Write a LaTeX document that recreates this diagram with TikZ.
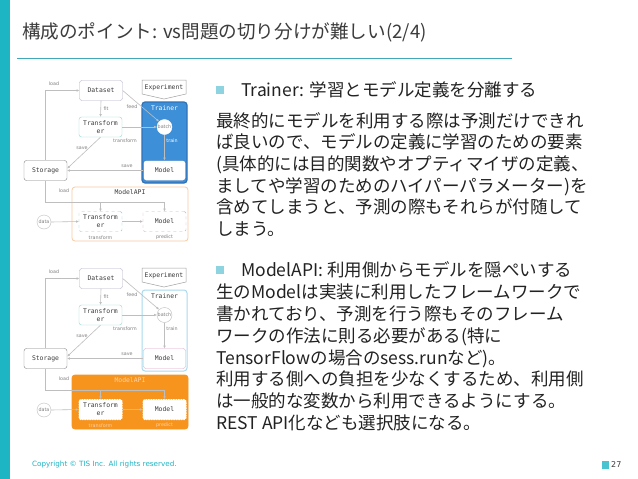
\documentclass[tikz,border=0pt]{standalone}
\usepackage{fontspec}
\usetikzlibrary{arrows.meta}
\newfontfamily\jpfont{Noto Sans CJK JP}
\newfontfamily\codefont{DejaVu Sans Mono}
\newfontfamily\labfont{DejaVu Sans}
\definecolor{barteal}{HTML}{1DB4C4}
\definecolor{ruleteal}{HTML}{3FA9BA}
\definecolor{bulletteal}{HTML}{8DD3E0}
\definecolor{titlegray}{HTML}{3C3C3C}
\definecolor{bodygray}{HTML}{222222}
\definecolor{edgegray}{HTML}{BEBEBE}
\definecolor{boxgray}{HTML}{A0A0A0}
\definecolor{dsgray}{HTML}{B4B0CA}
\definecolor{trteal}{HTML}{94D6D2}
\definecolor{trainblue}{HTML}{3D8FD8}
\definecolor{trainedge}{HTML}{2F72B8}
\definecolor{trainlight}{HTML}{A9DAEE}
\definecolor{apiorange}{HTML}{F7941E}
\definecolor{apilight}{HTML}{F9CBA0}
\definecolor{apitext}{HTML}{FDD2A6}
\definecolor{modelpink}{HTML}{E2A4CA}
\definecolor{dashteal}{HTML}{86D0DA}
\begin{document}
\begin{tikzpicture}[x=1pt, y=-1pt,
    box/.style={draw=boxgray, fill=white, rounded corners=2.5pt, minimum width=43pt,
      minimum height=20pt, inner sep=0pt, align=center, text=titlegray,
      font=\codefont\fontsize{6.4}{8.2}\selectfont},
    lbl/.style={inner sep=0pt, text=gray, font=\labfont\fontsize{4.8}{5}\selectfont},
    flow/.style={draw=edgegray, line width=0.6pt, -{Latex[length=2.6pt,width=2.6pt]}},
    wire/.style={draw=edgegray, line width=0.6pt},
    dot/.style={circle, draw=edgegray, fill=white, minimum size=15pt, inner sep=0pt,
      text=gray, font=\labfont\fontsize{4.8}{5}\selectfont},
    body/.style={anchor=north west, inner sep=0pt, align=left, text=bodygray,
      font=\jpfont\fontsize{17.5}{21.7}\selectfont},
    head/.style={anchor=west, inner sep=0pt, text=bodygray,
      font=\jpfont\fontsize{17.5}{21.7}\selectfont}]
  \useasboundingbox (0,0) rectangle (638,479);
  \fill[white] (0,0) rectangle (638,479);
  \fill[barteal] (0,0) rectangle (10,479);
  \node[anchor=west, inner sep=0pt, text=titlegray, font=\jpfont\fontsize{18.6}{20}\selectfont]
    (title) at (22,32) {構成のポイント: vs問題の切り分けが難しい(2/4)};
  \draw[ruleteal, line width=0.8pt] (17,58.5) -- (512,58.5);

  % diagram 1: trainer highlighted
  \draw[trainedge, fill=trainblue, line width=1.2pt, rounded corners=3pt] (142,102) rectangle (187,183);
  \draw[apilight, line width=0.8pt, rounded corners=3pt] (72,187) rectangle (188,241);
  \draw[boxgray, fill=white, line width=0.5pt] (142,80) -- (186,80) -- (186,94) -- (164,99) -- (142,94) -- cycle;
  \node[inner sep=0pt, text=titlegray, font=\codefont\fontsize{6.4}{7}\selectfont] (exp1) at (164,87.5) {Experiment};
  \node[inner sep=0pt, text=white, font=\codefont\fontsize{6.4}{7}\selectfont] (trn1) at (164.5,108) {Trainer};
  \node[inner sep=0pt, text=titlegray, font=\codefont\fontsize{6.4}{7}\selectfont] (api1) at (130,192.5) {ModelAPI};
  \node[box, draw=dsgray] (ds1) at (101,90.5) {Dataset};
  \node[box, draw=trteal] (tf1) at (100.5,127) {Transform\\er};
  \node[box, draw=gray] (sto1) at (45.5,170.5) {Storage};
  \node[dot, draw=white] (bt1) at (164.5,127) {batch};
  \node[box, draw=trainedge, minimum width=42pt] (md1) at (164.5,170.5) {Model};
  \node[dot, minimum size=14pt] (dat1) at (44,222) {data};
  \node[box, draw=dashteal, dashed, rounded corners=1.5pt] (atf1) at (100.5,221.5) {Transform\\er};
  \node[box, draw=modelpink, dashed, rounded corners=1.5pt] (amd1) at (164.5,221.5) {Model};
  \coordinate (lj1) at (100.5,202);
  \coordinate (lk1) at (164.5,202);
  \draw[flow] (sto1.north) |- (ds1.west);
  \draw[flow] (ds1.south) -- (tf1.north);
  \draw[flow] (ds1.east) -- (bt1.north west);
  \draw[flow] (tf1.east) -- (bt1.west);
  \draw[flow] (bt1.south) -- (md1.north);
  \draw[flow] (tf1.south) -- ([yshift=2pt]sto1.east);
  \draw[flow] (md1.west) -- (sto1.east);
  \draw[wire] (sto1.south) |- (lk1);
  \draw[flow] (lk1) -- (amd1.north);
  \draw[flow] (lj1) -- (atf1.north);
  \draw[flow] (dat1.east) -- (atf1.west);
  \draw[flow] (atf1.east) -- (amd1.west);
  \node[lbl] (l1a) at (54,84) {load};
  \node[lbl] (l1b) at (106,109) {fit};
  \node[lbl] (l1c) at (132,107) {feed};
  \node[lbl] (l1d) at (125,141) {transform};
  \node[lbl, text=white] (l1e) at (172,141) {train};
  \node[lbl] (l1f) at (82,148) {save};
  \node[lbl] (l1g) at (127,166) {save};
  \node[lbl] (l1h) at (64,191) {load};
  \node[lbl] (l1i) at (100.5,237.5) {transform};
  \node[lbl] (l1j) at (164.5,237.5) {predict};

  % diagram 2: model api highlighted
  \begin{scope}[yshift=-188pt]
  \draw[trainlight, fill=white, line width=1pt, rounded corners=3pt] (142,102) rectangle (187,183);
  \draw[apiorange, fill=apiorange, line width=0.8pt, rounded corners=3pt] (72,187) rectangle (188,241);
  \draw[boxgray, fill=white, line width=0.5pt] (142,80) -- (186,80) -- (186,94) -- (164,99) -- (142,94) -- cycle;
  \node[inner sep=0pt, text=titlegray, font=\codefont\fontsize{6.4}{7}\selectfont] (exp2) at (164,87.5) {Experiment};
  \node[inner sep=0pt, text=titlegray, font=\codefont\fontsize{6.4}{7}\selectfont] (trn2) at (164.5,108) {Trainer};
  \node[inner sep=0pt, text=apitext, font=\codefont\fontsize{6.4}{7}\selectfont] (api2) at (130,192.5) {ModelAPI};
  \node[box, draw=dsgray] (ds2) at (101,90.5) {Dataset};
  \node[box, draw=trteal] (tf2) at (100.5,127) {Transform\\er};
  \node[box, draw=gray] (sto2) at (45.5,170.5) {Storage};
  \node[dot] (bt2) at (164.5,127) {batch};
  \node[box, draw=modelpink, minimum width=42pt] (md2) at (164.5,170.5) {Model};
  \node[dot, minimum size=14pt] (dat2) at (44,222) {data};
  \node[box, draw=white, dash pattern=on 1.5pt off 1pt, line width=1pt, rounded corners=1.5pt] (atf2) at (100.5,221.5) {Transform\\er};
  \node[box, draw=white, dash pattern=on 1.5pt off 1pt, line width=1pt, rounded corners=1.5pt] (amd2) at (164.5,221.5) {Model};
  \coordinate (lj2) at (100.5,202);
  \coordinate (lk2) at (164.5,202);
  \draw[flow] (sto2.north) |- (ds2.west);
  \draw[flow] (ds2.south) -- (tf2.north);
  \draw[flow] (ds2.east) -- (bt2.north west);
  \draw[flow] (tf2.east) -- (bt2.west);
  \draw[flow] (bt2.south) -- (md2.north);
  \draw[flow] (tf2.south) -- ([yshift=2pt]sto2.east);
  \draw[flow] (md2.west) -- (sto2.east);
  \draw[wire] (sto2.south) |- (lk2);
  \draw[flow] (lk2) -- (amd2.north);
  \draw[flow] (lj2) -- (atf2.north);
  \draw[flow] (dat2.east) -- (atf2.west);
  \draw[flow] (atf2.east) -- (amd2.west);
  \node[lbl] (l2a) at (54,84) {load};
  \node[lbl] (l2b) at (106,109) {fit};
  \node[lbl] (l2c) at (132,107) {feed};
  \node[lbl] (l2d) at (125,141) {transform};
  \node[lbl] (l2e) at (172,141) {train};
  \node[lbl] (l2f) at (82,148) {save};
  \node[lbl] (l2g) at (127,166) {save};
  \node[lbl] (l2h) at (64,191) {load};
  \node[lbl, text=apitext] (l2i) at (100.5,237.5) {transform};
  \node[lbl, text=apitext] (l2j) at (164.5,237.5) {predict};
  \end{scope}

  % right column text
  \fill[bulletteal] (216,86) rectangle (224,94);
  \node[head] (h1) at (241,90) {Trainer: 学習とモデル定義を分離する};
  \node[body] (p1) at (216,112) {最終的にモデルを利用する際は予測だけできれ\\
    ば良いので、モデルの定義に学習のための要素\\
    (具体的には目的関数やオプティマイザの定義、\\
    ましてや学習のためのハイパーパラメーター)を\\
    含めてしまうと、予測の際もそれらが付随して\\
    しまう。};
  \fill[bulletteal] (216,266) rectangle (224,274);
  \node[head] (h2) at (241,270) {ModelAPI: 利用側からモデルを隠ぺいする};
  \node[body] (p2) at (216,284) {生のModelは実装に利用したフレームワークで\\
    書かれており、予測を行う際もそのフレーム\\
    ワークの作法に則る必要がある(特に\\
    TensorFlowの場合のsess.runなど)。\\
    利用する側への負担を少なくするため、利用側\\
    は一般的な変数から利用できるようにする。\\
    REST API化なども選択肢になる。};

  % footer
  \node[anchor=west, inner sep=0pt, text=barteal, font=\labfont\fontsize{7.2}{8}\selectfont]
    (copy) at (32,465) {Copyright © TIS Inc. All rights reserved.};
  \fill[barteal!80] (602,461) rectangle (609,469);
  \node[anchor=west, inner sep=0pt, text=titlegray, font=\labfont\fontsize{8}{9}\selectfont]
    (page) at (611,465) {27};
\end{tikzpicture}
\end{document}
